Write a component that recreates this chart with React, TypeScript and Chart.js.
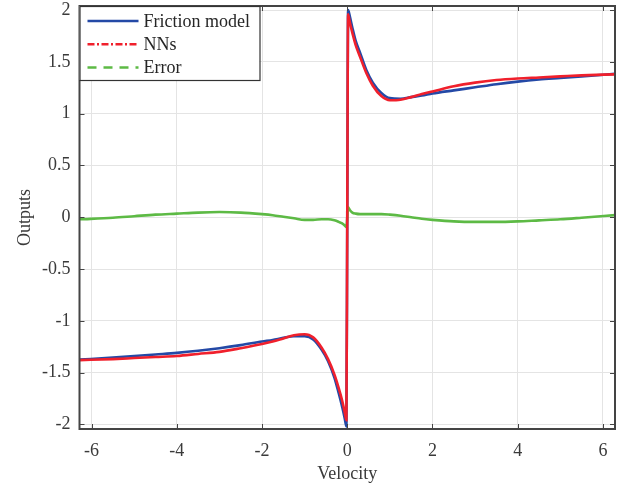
import React, { useEffect, useRef } from "react";
import { Chart, registerables } from "chart.js";

Chart.register(...registerables);

const velocity = [
  -6.28, -5.5, -5, -4.5, -4, -3.5, -3, -2.5, -2, -1.75, -1.5, -1.25, -1, -0.8, -0.6, -0.45, -0.3, -0.2, -0.12, -0.06, -0.02,
  0,
  0.02, 0.06, 0.12, 0.2, 0.3, 0.45, 0.6, 0.8, 1, 1.25, 1.5, 1.75, 2, 2.5, 3, 3.5, 4, 4.5, 5, 5.5, 6.28,
];

const frictionModel = [
  -1.375, -1.355, -1.34, -1.325, -1.31, -1.29, -1.265, -1.235, -1.2, -1.185, -1.165, -1.15, -1.15, -1.18, -1.28, -1.39, -1.55, -1.7, -1.83, -1.94, -2.02,
  0,
  2.0, 1.94, 1.83, 1.7, 1.59, 1.42, 1.3, 1.2, 1.15, 1.145, 1.16, 1.175, 1.195, 1.225, 1.255, 1.285, 1.31, 1.33, 1.345, 1.36, 1.385,
];

const nnOutput = [
  -1.38, -1.37, -1.36, -1.35, -1.34, -1.32, -1.3, -1.265, -1.225, -1.2, -1.17, -1.14, -1.13, -1.16, -1.26, -1.37, -1.52, -1.65, -1.77, -1.88, -1.96,
  0,
  1.96, 1.88, 1.78, 1.66, 1.55, 1.39, 1.27, 1.17, 1.13, 1.135, 1.16, 1.19, 1.215, 1.265, 1.3, 1.325, 1.34, 1.35, 1.36, 1.37, 1.38,
];

const errorValues = [
  -0.02, -0.005, 0.01, 0.025, 0.035, 0.045, 0.05, 0.045, 0.03, 0.02, 0.005, -0.01, -0.025, -0.025, -0.02, -0.02, -0.03, -0.045, -0.06, -0.08, -0.095,
  0,
  0.095, 0.07, 0.045, 0.035, 0.03, 0.03, 0.03, 0.03, 0.025, 0.015, 0.0, -0.015, -0.025, -0.04, -0.045, -0.045, -0.04, -0.03, -0.02, -0.005, 0.02,
];

const xTicks = [-6, -4, -2, 0, 2, 4, 6];
const yTicks = [-2, -1.5, -1, -0.5, 0, 0.5, 1, 1.5, 2];
const xRange = [-2 * Math.PI, 2 * Math.PI];
const yRange = [-2.045, 2.04];

const legendItems = [
  { label: "Friction model", color: "#2449a6", dash: [] as number[] },
  { label: "NNs", color: "#f0202c", dash: [7, 2.5, 2, 2.5] },
  { label: "Error", color: "#5dba45", dash: [9, 7] },
];

const FONT = "'Liberation Serif', 'DejaVu Serif', serif";

const framePlugin = {
  id: "frame",
  afterDraw(chart: any) {
    const { ctx, chartArea } = chart;
    const { left, right, top, bottom } = chartArea;
    const xs = chart.scales.x;
    const ys = chart.scales.y;
    ctx.save();
    ctx.strokeStyle = "#444444";
    ctx.lineWidth = 1;
    const tl = 5;
    ctx.beginPath();
    for (const v of xTicks) {
      const px = Math.round(xs.getPixelForValue(v)) + 0.5;
      ctx.moveTo(px, bottom);
      ctx.lineTo(px, bottom - tl);
      ctx.moveTo(px, top);
      ctx.lineTo(px, top + tl);
    }
    for (const v of yTicks) {
      const py = Math.round(ys.getPixelForValue(v)) + 0.5;
      ctx.moveTo(left, py);
      ctx.lineTo(left + tl, py);
      ctx.moveTo(right, py);
      ctx.lineTo(right - tl, py);
    }
    ctx.stroke();
    ctx.lineWidth = 2;
    ctx.strokeRect(left, top, right - left, bottom - top);

    // legend
    const bx = left;
    const by = top;
    const bw = 180;
    const bh = 74;
    ctx.fillStyle = "#ffffff";
    ctx.fillRect(bx, by, bw, bh);
    ctx.lineWidth = 1.2;
    ctx.strokeStyle = "#333333";
    ctx.strokeRect(bx + 0.5, by + 0.5, bw, bh);
    ctx.font = "18px " + FONT;
    ctx.textBaseline = "middle";
    ctx.textAlign = "left";
    legendItems.forEach((it, i) => {
      const y = by + 15 + i * 23.3;
      ctx.beginPath();
      ctx.setLineDash(it.dash);
      ctx.strokeStyle = it.color;
      ctx.lineWidth = 2.5;
      ctx.moveTo(bx + 8, y);
      ctx.lineTo(bx + 59, y);
      ctx.stroke();
      ctx.setLineDash([]);
      ctx.fillStyle = "#262626";
      ctx.fillText(it.label, bx + 64, y + 1);
    });
    ctx.restore();
  },
};

export default function App() {
  const ref = useRef<HTMLCanvasElement | null>(null);
  useEffect(() => {
    document.body.style.margin = "0";
    const canvas = ref.current;
    if (!canvas) return;
    const mk = (vals: number[]) => velocity.map((v, i) => ({ x: v, y: vals[i] }));
    const chart = new Chart(canvas, {
      type: "line",
      data: {
        datasets: [
          { label: "NNs", data: mk(nnOutput), borderColor: "#f0202c", borderWidth: 2.6, pointRadius: 0, cubicInterpolationMode: "monotone", order: 0 },
          { label: "Error", data: mk(errorValues), borderColor: "#5dba45", borderWidth: 2.6, pointRadius: 0, cubicInterpolationMode: "monotone", order: 1 },
          { label: "Friction model", data: mk(frictionModel), borderColor: "#2449a6", borderWidth: 2.6, pointRadius: 0, cubicInterpolationMode: "monotone", order: 2 },
        ],
      },
      options: {
        animation: false,
        responsive: false,
        maintainAspectRatio: false,
        layout: { padding: { left: 0, right: 17, top: 6, bottom: 0 } },
        plugins: { legend: { display: false }, tooltip: { enabled: false } },
        scales: {
          x: {
            type: "linear",
            min: xRange[0],
            max: xRange[1],
            afterBuildTicks: (s: any) => { s.ticks = xTicks.map((v) => ({ value: v })); },
            afterFit: (s: any) => { s.height = 61; s.paddingLeft = 0; s.paddingRight = 0; },
            grid: { color: "#e4e4e4", lineWidth: 1, drawTicks: false },
            border: { display: false },
            ticks: { font: { family: FONT, size: 18 }, color: "#3a3a3a", padding: 11, maxRotation: 0, callback: (v: any) => String(v) },
            title: { display: true, text: "Velocity", font: { family: FONT, size: 18 }, color: "#3a3a3a", padding: { top: 0, bottom: 5 } },
          },
          y: {
            type: "linear",
            min: yRange[0],
            max: yRange[1],
            afterBuildTicks: (s: any) => { s.ticks = yTicks.map((v) => ({ value: v })); },
            afterFit: (s: any) => { s.width = 79.5; s.paddingTop = 0; s.paddingBottom = 0; },
            grid: { color: "#e4e4e4", lineWidth: 1, drawTicks: false },
            border: { display: false },
            ticks: { font: { family: FONT, size: 18 }, color: "#3a3a3a", padding: 9, callback: (v: any) => String(v) },
            title: { display: true, text: "Outputs", font: { family: FONT, size: 18 }, color: "#3a3a3a", padding: { top: 14, bottom: 0 } },
          },
        },
      },
      plugins: [framePlugin],
    } as any);
    return () => chart.destroy();
  }, []);
  return <canvas ref={ref} width={632} height={490} style={{ display: "block" }} />;
}
